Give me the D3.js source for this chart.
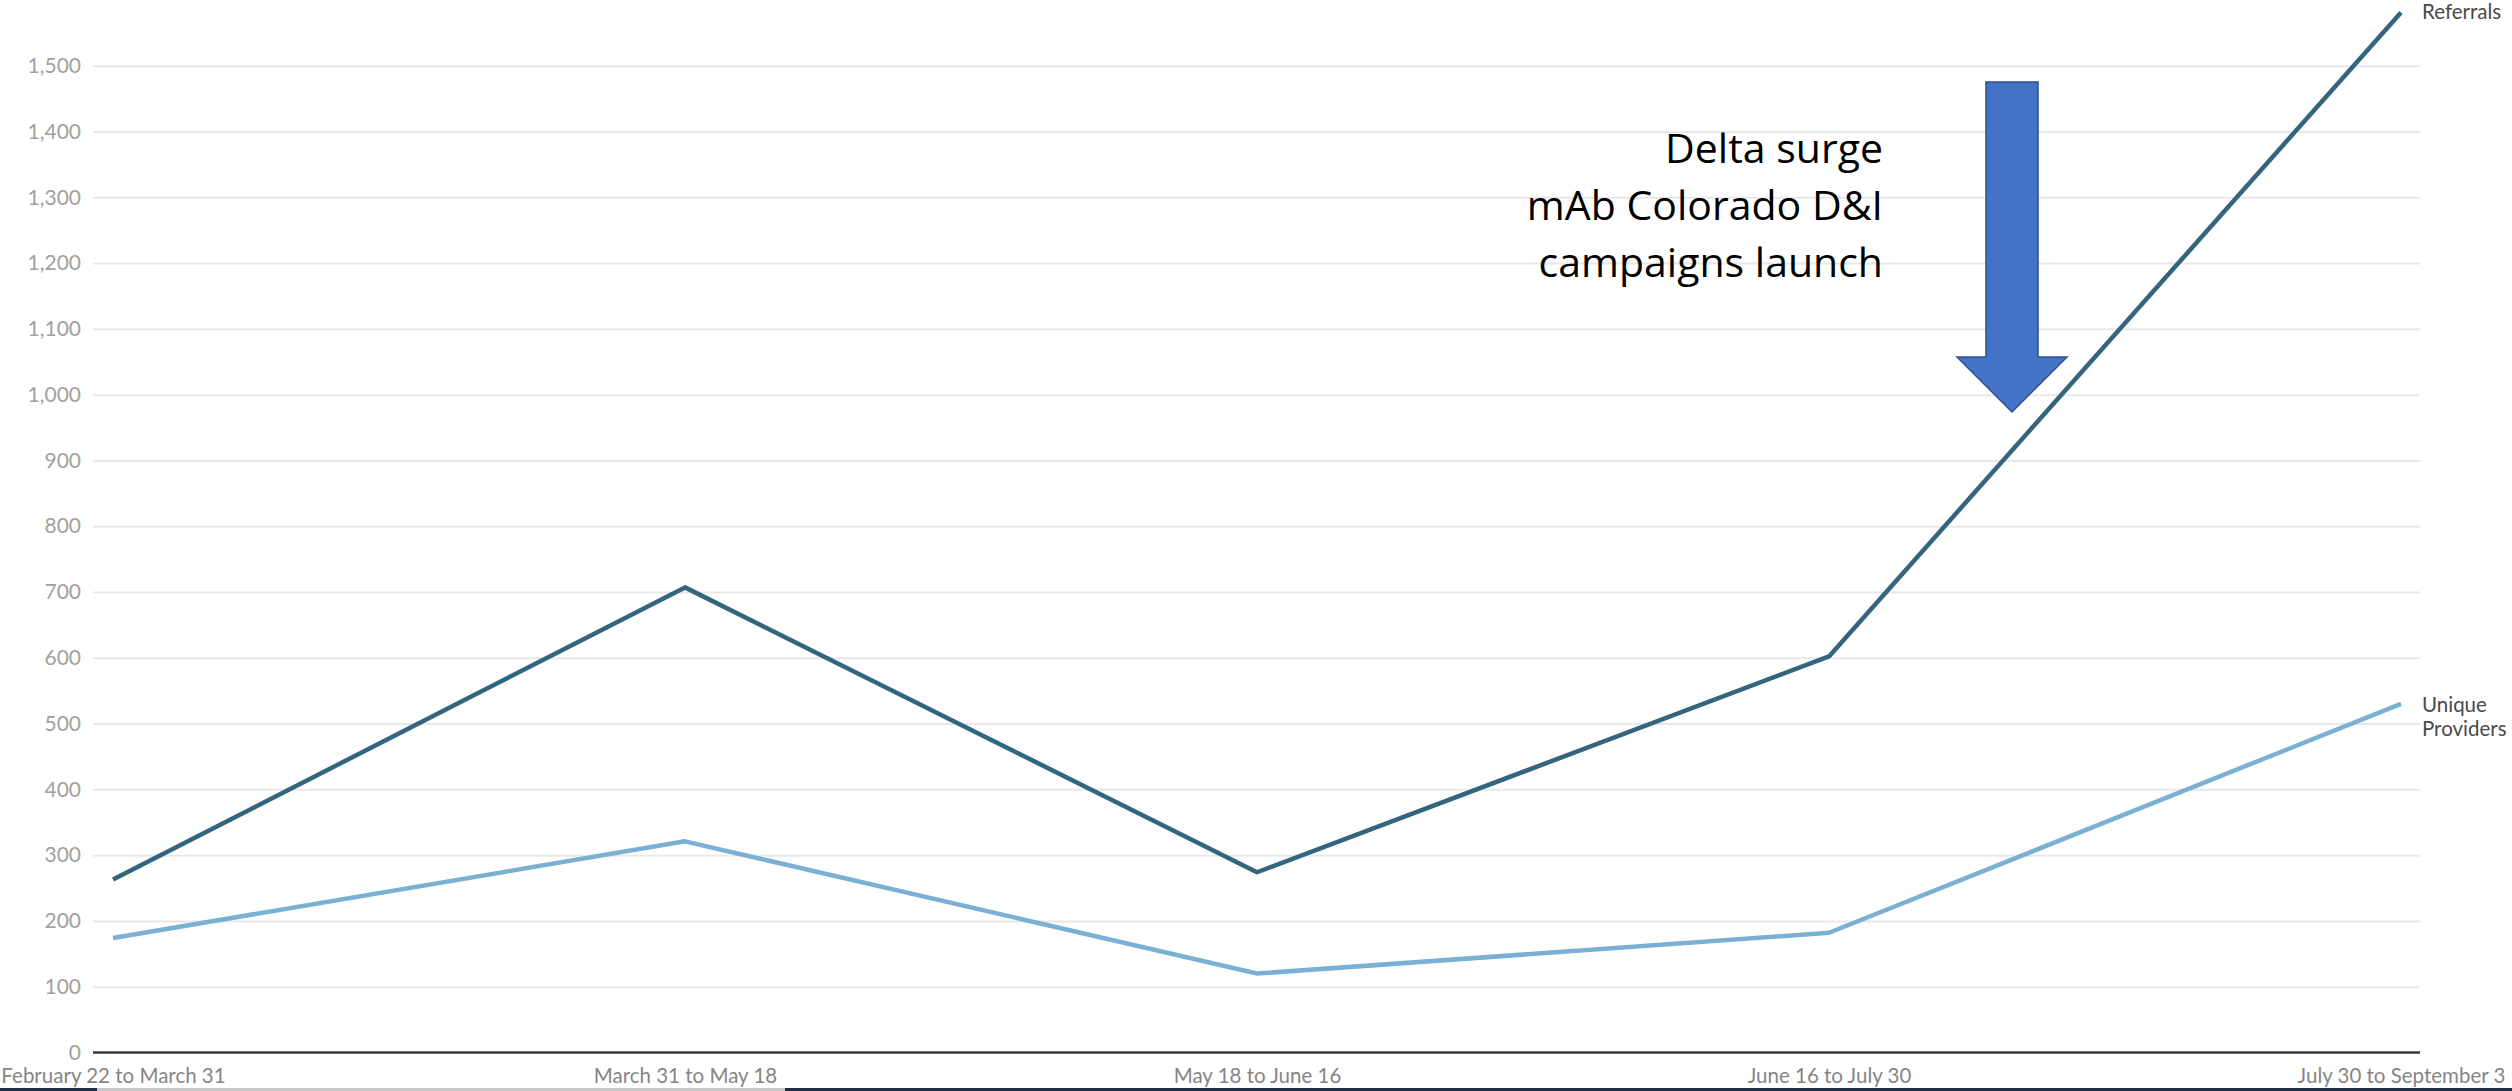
<!DOCTYPE html>
<html lang="en">
<head>
  <meta charset="UTF-8">
  <title>Referrals and Unique Providers</title>
  <script src="https://d3js.org/d3.v7.min.js"></script>
  <style>
    body { margin: 0; background: #fff; overflow: hidden; }
  </style>
</head>
<body>
  <script>
    // data
    const periods = ['February 22 to March 31', 'March 31 to May 18', 'May 18 to June 16', 'June 16 to July 30', 'July 30 to September 3']
    const referrals = [263, 707, 274, 602, 1581]
    const uniqueProviders = [174, 321, 120, 182, 530]
    const yTicks = [0, 100, 200, 300, 400, 500, 600, 700, 800, 900, 1000, 1100, 1200, 1300, 1400, 1500]
    const noteLines = ['Delta surge', 'mAb Colorado D&I', 'campaigns launch']

    const W = 2512, H = 1091
    let svg = d3.select('body')
      .append('svg')
      .attr('width', W)
      .attr('height', H)

    let x = d3.scalePoint()
      .domain(periods)
      .range([113, 2401])

    let y = d3.scaleLinear()
      .domain([0, 1500])
      .range([1052.5, 65.7])

    // grid + y labels
    let yAxis = d3.axisLeft(y)
      .tickValues(yTicks)
      .tickSize(-(2420 - 93))
      .tickPadding(12)
      .tickFormat(d3.format(','))

    let gy = svg.append('g')
      .attr('transform', 'translate(93,0)')
      .call(yAxis)
    gy.select('.domain').remove()
    gy.selectAll('.tick line')
      .attr('stroke', '#e8e8e8')
      .attr('stroke-width', 2)
    gy.selectAll('.tick text')
      .attr('fill', '#a3a09e')
      .style('font-family', 'Lato, sans-serif')
      .style('font-size', '21px')

    // baseline
    svg.append('line')
      .attr('x1', 93).attr('x2', 2420)
      .attr('y1', y(0)).attr('y2', y(0))
      .attr('stroke', '#3a3a3a')
      .attr('stroke-width', 2.5)

    // x labels
    let xAxis = d3.axisBottom(x).tickSize(0).tickPadding(0)
    let gx = svg.append('g')
      .attr('transform', 'translate(0,1068)')
      .call(xAxis)
    gx.select('.domain').remove()
    gx.selectAll('.tick text')
      .attr('fill', '#858585')
      .attr('dy', '0.71em')
      .style('font-family', 'Lato, sans-serif')
      .style('font-size', '20.5px')

    // lines
    let line = d3.line()
      .x((d, i) => x(periods[i]))
      .y(d => y(d))

    svg.append('path')
      .datum(uniqueProviders)
      .attr('d', line)
      .attr('fill', 'none')
      .attr('stroke', '#7ab0d3')
      .attr('stroke-width', 4.5)
      .attr('stroke-linejoin', 'round')

    svg.append('path')
      .datum(referrals)
      .attr('d', line)
      .attr('fill', 'none')
      .attr('stroke', '#33657e')
      .attr('stroke-width', 4.5)
      .attr('stroke-linejoin', 'round')

    // series labels at the line ends
    let last = periods.length - 1
    svg.append('text')
      .attr('x', x(periods[last]) + 21)
      .attr('y', y(referrals[last]) + 7)
      .attr('fill', '#4a4a4a')
      .style('font-family', 'Lato, sans-serif')
      .style('font-size', '20.5px')
      .text('Referrals')

    svg.append('text')
      .attr('x', x(periods[last]) + 21)
      .attr('y', y(uniqueProviders[last]) + 8)
      .attr('fill', '#4a4a4a')
      .style('font-family', 'Lato, sans-serif')
      .style('font-size', '20.5px')
      .selectAll('tspan')
      .data(['Unique', 'Providers'])
      .enter()
      .append('tspan')
      .attr('x', x(periods[last]) + 21)
      .attr('dy', (d, i) => i ? 24 : 0)
      .text(d => d)

    // annotation
    svg.append('text')
      .attr('x', 1883)
      .attr('y', 163)
      .attr('text-anchor', 'end')
      .attr('fill', '#000')
      .style('font-family', '"Open Sans", sans-serif')
      .style('font-size', '41px')
      .selectAll('tspan')
      .data(noteLines)
      .enter()
      .append('tspan')
      .attr('x', 1883)
      .attr('dy', (d, i) => i ? 57 : 0)
      .text(d => d)

    // down arrow
    let ax = 2012
    svg.append('path')
      .attr('d', d3.line()([
        [ax - 26, 82], [ax + 26, 82], [ax + 26, 357], [ax + 55, 357],
        [ax, 412], [ax - 55, 357], [ax - 26, 357]
      ]) + 'Z')
      .attr('fill', '#4472c4')
      .attr('stroke', '#2f528f')
      .attr('stroke-width', 1.5)

    // thin strip at the bottom edge
    svg.append('rect').attr('x', 0).attr('y', 1088).attr('width', W).attr('height', 3).attr('fill', '#1f2d45')
    svg.append('rect').attr('x', 97).attr('y', 1088).attr('width', 688).attr('height', 3).attr('fill', '#c8c8c8')
  </script>
</body>
</html>
